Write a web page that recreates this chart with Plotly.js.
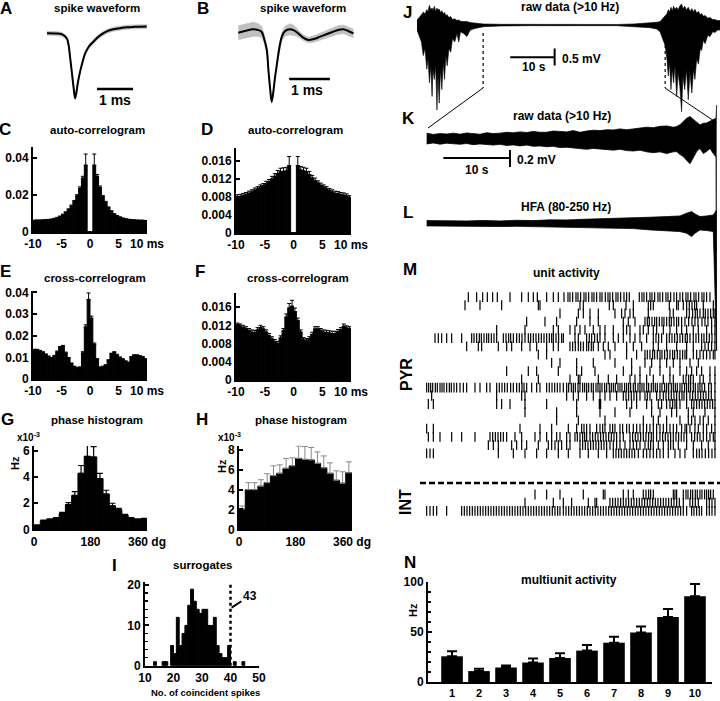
<!DOCTYPE html>
<html><head><meta charset="utf-8">
<script src="https://cdn.plot.ly/plotly-3.0.1.min.js"></script>
<style>html,body{margin:0;padding:0;background:#fff}#chart{width:720px;height:701px}</style>
</head><body><div id="chart"></div>
<script>
// ---------- DATA ----------
// A/B spike waveforms (time in ms, amplitude normalised to trough)
const wfATime = [0,0.23,0.42,0.55,0.6,0.64,0.69,0.74,0.78,0.82,0.86,0.92,0.99,1.06,1.17,1.29,1.42,1.57,1.69,1.84,2.03,2.21,2.44,2.77];
const wfAMean = [0,-0.003,-0.018,-0.077,-0.18,-0.36,-0.6,-0.84,-1.0,-0.9,-0.75,-0.59,-0.44,-0.31,-0.2,-0.13,-0.057,0,0.035,0.062,0.078,0.092,0.098,0.102];
const wfASd   = [0.03,0.03,0.03,0.03,0.025,0.02,0.02,0.02,0.02,0.02,0.02,0.02,0.02,0.025,0.03,0.03,0.03,0.03,0.03,0.03,0.03,0.03,0.03,0.03];
const wfBTime = [0,0.16,0.37,0.48,0.57,0.63,0.7,0.74,0.78,0.82,0.86,0.9,0.94,1.0,1.07,1.15,1.27,1.37,1.47,1.59,1.72,1.86,2.01,2.18,2.33,2.45,2.58,2.7,2.83];
const wfBMean = [-0.01,0.014,0.039,0.029,0.004,-0.086,-0.258,-0.545,-0.803,-1.0,-0.861,-0.66,-0.498,-0.258,-0.067,0.014,0.039,0.022,-0.019,-0.079,-0.115,-0.1,-0.067,-0.029,0.004,0.029,0.039,0.014,-0.019];
const wfBSd   = [0.1,0.1,0.1,0.09,0.08,0.06,0.04,0.03,0.03,0.03,0.03,0.03,0.04,0.05,0.06,0.07,0.08,0.07,0.05,0.04,0.04,0.045,0.05,0.055,0.06,0.06,0.06,0.06,0.06];

// C-F correlograms (lag bins, ms)
const lagBins = [-9.75,-9.25,-8.75,-8.25,-7.75,-7.25,-6.75,-6.25,-5.75,-5.25,-4.75,-4.25,-3.75,-3.25,-2.75,-2.25,-1.75,-1.25,-0.75,-0.25,0.25,0.75,1.25,1.75,2.25,2.75,3.25,3.75,4.25,4.75,5.25,5.75,6.25,6.75,7.25,7.75,8.25,8.75,9.25,9.75];
const acgPyr = [0.0060,0.0061,0.0061,0.0062,0.0063,0.0064,0.0066,0.0070,0.0075,0.0082,0.0092,0.0105,0.0120,0.0140,0.0165,0.0195,0.0235,0.0290,0.0360,0,0,0.0360,0.0300,0.0240,0.0190,0.0160,0.0130,0.0110,0.0095,0.0085,0.0078,0.0072,0.0068,0.0065,0.0063,0.0062,0.0061,0.0060,0.0060,0.0058];
const acgPyrErr = [0.0004,0.0004,0.0004,0.0004,0.0004,0.0004,0.0004,0.0004,0.0004,0.0004,0.0004,0.0004,0.0005,0.0005,0.0005,0.0006,0.0008,0.001,0.006,0,0,0.006,0.001,0.0008,0.0006,0.0005,0.0005,0.0005,0.0004,0.0004,0.0004,0.0004,0.0004,0.0004,0.0004,0.0004,0.0004,0.0004,0.0004,0.0004];
const acgInt = [0.0080,0.0081,0.0083,0.0085,0.0088,0.0091,0.0095,0.0098,0.0102,0.0105,0.0110,0.0114,0.0120,0.0126,0.0132,0.0136,0.0137,0.0138,0.0150,0,0,0.0150,0.0140,0.0138,0.0136,0.0130,0.0122,0.0116,0.0111,0.0106,0.0102,0.0098,0.0094,0.0091,0.0088,0.0087,0.0085,0.0084,0.0082,0.0078];
const acgIntErr = [0.0005,0.0005,0.0005,0.0005,0.0005,0.0005,0.0005,0.0005,0.0005,0.0005,0.0005,0.0005,0.0006,0.0006,0.0007,0.0008,0.0008,0.0008,0.002,0,0,0.002,0.0008,0.0008,0.0008,0.0007,0.0006,0.0006,0.0005,0.0005,0.0005,0.0005,0.0005,0.0005,0.0005,0.0005,0.0005,0.0005,0.0005,0.0005];
const ccgPyr = [0.0133,0.0133,0.0128,0.0122,0.0112,0.0102,0.0095,0.0105,0.0125,0.0145,0.0150,0.0120,0.0095,0.0070,0.0055,0.0050,0.0052,0.0120,0.0240,0.0367,0.0280,0.0160,0.0090,0.0052,0.0055,0.0062,0.0085,0.0115,0.0122,0.0110,0.0098,0.0090,0.0080,0.0074,0.0100,0.0108,0.0108,0.0104,0.0100,0.0090];
const ccgPyrErr = [0.0004,0.0004,0.0004,0.0004,0.0004,0.0004,0.0004,0.0004,0.0004,0.0005,0.0005,0.0004,0.0004,0.0004,0.0004,0.0004,0.0004,0.0006,0.001,0.003,0.001,0.0006,0.0004,0.0004,0.0004,0.0004,0.0004,0.0004,0.0004,0.0004,0.0004,0.0004,0.0004,0.0004,0.0004,0.0004,0.0004,0.0004,0.0004,0.0004];
const ccgInt = [0.0120,0.0118,0.0115,0.0112,0.0108,0.0105,0.0104,0.0110,0.0115,0.0112,0.0105,0.0097,0.0090,0.0084,0.0080,0.0092,0.0108,0.0138,0.0158,0.0162,0.0150,0.0130,0.0105,0.0088,0.0086,0.0090,0.0100,0.0112,0.0112,0.0108,0.0105,0.0104,0.0103,0.0102,0.0102,0.0106,0.0110,0.0118,0.0114,0.0112];
const ccgIntErr = [0.0005,0.0005,0.0005,0.0005,0.0005,0.0005,0.0005,0.0005,0.0005,0.0005,0.0005,0.0005,0.0005,0.0005,0.0005,0.0005,0.0005,0.0007,0.001,0.0013,0.0008,0.0006,0.0005,0.0005,0.0005,0.0005,0.0005,0.0005,0.0005,0.0005,0.0005,0.0005,0.0005,0.0005,0.0005,0.0005,0.0005,0.0005,0.0005,0.0005];

// G-H phase histograms (deg bins, rate x10^-3 Hz)
const phaseBins = [10,30,50,70,90,110,130,150,170,190,210,230,250,270,290,310,330,350];
const phasePyr = [0.3,0.65,0.75,0.85,1.2,1.9,2.6,4.3,5.6,5.55,3.9,2.7,1.8,1.5,1.1,0.85,0.75,0.8];
const phasePyrErr = [0.05,0.05,0.05,0.05,0.1,0.15,0.3,0.6,0.9,0.8,0.4,0.3,0.2,0.1,0.05,0.05,0.05,0.05];
const phaseInt = [2.05,4.0,4.0,4.35,4.7,5.4,5.65,6.15,6.4,7.15,7.05,7.0,6.65,6.2,5.65,4.95,4.65,5.7];
const phaseIntErr = [0.3,0.7,0.7,0.65,0.9,1.0,0.85,1.0,0.8,1.25,1.3,1.25,1.15,1.2,1.05,0.95,1.15,1.1];

// I surrogates histogram
const surrBins = [13.5,16.5,17.5,19.5,20.5,21.5,22.5,23.5,24.5,25.5,26.5,27.5,28.5,29.5,30.5,31.5,32.5,33.5,34.5,35.5,36.5,37.5,38.5,39.5,41.5,44.5];
const surrCounts = [1,1,1,5,3,12,5,8,10,15,19,16,14,13,14,14,10,10,12,5,3,2,2,5,1,1];
const surrThreshold = 40;
const observedCoinc = "43";

// J raw data envelope (s, mV)
const jTime = [0,0.5,1.0,1.4,1.8,2.2,2.5,2.8,3.1,3.4,3.6,3.9,4.2,4.5,4.7,5.0,5.3,5.6,5.9,6.2,6.5,6.8,7.2,7.6,8.0,8.5,9.0,9.4,9.8,10.5,11.25,12.0,13.1,15.0,18.75,25,35,45,48.75,52.5,54.0,54.75,55.3,55.9,56.3,56.6,56.9,57.2,57.5,57.8,58.1,58.5,58.8,59.2,59.6,59.9,60.3,60.7,61.1,61.5,61.9,62.3,62.6,63.0,63.4,63.8,64.1,64.5,64.9,65.5,66.0,66.6,67.1,67.7,68.25];
const jTop = [0.15,0.22,0.3,0.38,0.33,0.45,0.4,0.58,0.45,0.5,0.42,0.55,0.4,0.5,0.43,0.47,0.36,0.42,0.33,0.37,0.28,0.3,0.22,0.25,0.16,0.18,0.13,0.15,0.11,0.1,0.1,0.07,0.05,0.03,0.02,0.015,0.015,0.015,0.03,0.05,0.08,0.1,0.18,0.25,0.33,0.45,0.38,0.52,0.42,0.55,0.46,0.52,0.44,0.56,0.62,0.48,0.55,0.44,0.52,0.4,0.48,0.38,0.46,0.35,0.4,0.3,0.34,0.26,0.28,0.2,0.22,0.16,0.16,0.13,0.13];
const jBottom = [-0.15,-0.3,-0.5,-0.9,-0.7,-1.3,-1.0,-1.7,-1.2,-2.1,-1.3,-1.6,-1.2,-2.5,-1.4,-2.3,-1.3,-1.9,-1.1,-1.6,-0.9,-1.2,-0.7,-0.8,-0.4,-0.5,-0.25,-0.5,-0.2,-0.25,-0.34,-0.15,-0.1,-0.05,-0.03,-0.02,-0.02,-0.02,-0.05,-0.08,-0.12,-0.2,-0.4,-0.6,-1.0,-1.5,-1.1,-1.9,-1.3,-1.7,-1.2,-2.1,-1.4,-1.8,-2.55,-1.5,-1.9,-1.3,-2.2,-1.4,-2.0,-1.3,-1.6,-1.0,-1.15,-0.7,-0.75,-0.45,-0.55,-0.3,-0.34,-0.2,-0.22,-0.15,-0.15];
// K raw data envelope (s, mV)
const kTime = [0,1,2,3,4,5,6,7,8,9,10,11,12,13,14,15,16,17,18,19,20,21,22,23,24,25,26,27,28,29,30,31,32,33,34,35,36,37,37.5,38,38.5,39,39.5,40,40.5,41,41.5,42,42.5,43,43.4,43.5];
const kTop = [0.06,0.045,0.055,0.05,0.06,0.048,0.062,0.05,0.047,0.065,0.055,0.06,0.07,0.065,0.075,0.068,0.08,0.07,0.071,0.085,0.078,0.075,0.09,0.07,0.085,0.095,0.09,0.1,0.098,0.11,0.1,0.106,0.12,0.13,0.125,0.14,0.145,0.13,0.137,0.16,0.196,0.235,0.255,0.224,0.196,0.157,0.176,0.18,0.2,0.216,0.235,0.39];
const kBottom = [-0.067,-0.055,-0.07,-0.058,-0.065,-0.07,-0.062,-0.075,-0.067,-0.07,-0.08,-0.072,-0.085,-0.078,-0.09,-0.08,-0.095,-0.09,-0.1,-0.095,-0.11,-0.106,-0.115,-0.12,-0.13,-0.12,-0.129,-0.135,-0.14,-0.13,-0.145,-0.15,-0.14,-0.16,-0.17,-0.16,-0.18,-0.16,-0.157,-0.19,-0.216,-0.26,-0.3,-0.23,-0.157,-0.12,-0.18,-0.155,-0.12,-0.18,-0.22,-2.5];
// L HFA envelope (s, mV)
const lTime = [0,3,6,8.5,11,13.5,16,18.5,21,23.5,26,28.5,31,33.5,36,38,39,39.75,40.25,41,42,43,43.5];
const lTop = [0.031,0.025,0.027,0.033,0.027,0.035,0.031,0.04,0.039,0.047,0.051,0.055,0.063,0.071,0.078,0.086,0.118,0.137,0.11,0.078,0.086,0.098,0.157];
const lBottom = [-0.031,-0.035,-0.031,-0.038,-0.039,-0.036,-0.039,-0.045,-0.047,-0.051,-0.059,-0.059,-0.063,-0.078,-0.086,-0.098,-0.118,-0.157,-0.118,-0.078,-0.086,-0.098,-1.5];

// M unit activity rasters (spike times, s)
const pyrSpikes = [
[6.25,7.5,8.4,9.1,9.9,10.6,12.5,14.25,15.25,16,16.6,18,19,19.75,20.6,21.2,21.5,21.9,22.4,22.7,23.1,23.6,23.9,24.3,24.8,25.1,25.5,26.0,26.3,26.8,27.2,27.5,27.9,28.4,28.7,29.1,29.6,30.0,30.4,31.9,32.3,32.6,33.0,33.5,33.8,34.2,34.7,35.0,35.4,35.9,36.2,36.6,37.1,37.5,38.0,38.4,38.9,39.2,39.6,40.1,40.4,40.8,41.3,41.6,42.0,42.5],
[5.75,8.0,11.25,16.75,17.0,23.0,23.5,27.4,28.0,29.9,31.0,33.25,33.6,34.0,36.4,37.5,37.75,38.5,39.0,39.4,39.8,40.2,40.5,41.5,43.0],
[20.0,22.75,23.5,24.5,25.75,28.25,29.25,29.75,30.5,31.0,33.25,36.5,37.0,39.0,39.4,39.9,40.3,40.6,41.0,41.5,41.8,42.2,42.6,43.0,43.25],
[15.0,17.75,19.5,22.5,24.5,25.75,29.5,30.25,31.25,32.75,33.1,33.4,33.8,34.2,34.5,34.9,35.3,35.6,36.0,36.4,36.7,37.1,37.5,37.8,38.25,38.75,39.3,39.8,40.25,40.7,41.3,41.75,42.2,42.75,43.25],
[10.5,14.75,19.0,19.75,21.5,22.25,23.0,23.75,25.0,26.0,26.75,28.0,29.5,30.0,30.5,32.0,32.5,33.25,34.0,34.5,35.5,36.5,37.5,38.25,39.0,40.0,40.75,42.0,42.75,43.25],
[1.25,1.75,2.25,3.0,3.75,5.25,6.75,7.1,7.5,7.9,8.2,8.6,9.0,9.3,9.7,10.1,10.5,11.5,11.9,12.3,12.6,13.0,13.5,13.9,14.3,14.75,15.25,15.6,16.0,16.4,16.8,17.2,17.6,18.0,18.4,18.75,19.0,19.4,19.8,20.25,20.5,22.25,22.75,24.0,24.4,24.75,25.2,25.6,26.0,26.75,28.0,28.75,29.5,30.5,31.25,32.0,33.0,34.0,34.4,34.8,35.25,36.0,36.4,36.8,37.2,37.6,38.0,38.4,38.8,39.1,39.5,40.0,40.4,40.8,41.25,41.6,42.0,42.4,42.8,43.25],
[6.0,7.75,8.25,10.75,12.0,12.75,14.25,15.5,16.5,18.0,19.0,19.75,21.5,21.9,22.3,22.75,23.1,23.5,24.0,24.3,24.7,25.0,25.75,26.5,27.25,28.25,30.0,31.0,32.25,34.0,34.75,36.0,37.5,39.0,40.0,41.25,41.75,42.25,42.75,43.25],
[16.75,18.0,26.75,27.5,30.0,31.5,32.75,33.1,33.5,33.9,34.2,34.6,35.0,35.3,35.7,36.1,36.5,36.9,37.2,37.6,38.0,38.4,38.75,39.0,40.0,40.5,41.0,41.5,42.0,42.5,43.0,43.25],
[18.75,20.0,22.5,25.0,28.25,30.75,32.75,33.75,35.0,36.0,37.0,38.0,39.5,40.75],
[12.0,15.25,16.5,19.75,22.5,23.25,25.25,29.5,30.75,32.0,33.5,35.0,36.5,38.0,39.0,39.75,40.5,41.25,42.5,43.25],
[14.25,16.75,21.5,22.75,23.0,25.75,27.25,28.5,30.5,31.25,32.0,33.0,34.0,35.5,36.5,37.0,38.5,38.9,39.3,39.6,40.0,41.0,41.5,42.5,43.25],
[0.0,0.3,0.6,0.9,1.3,1.6,2.0,2.3,2.6,3.0,3.4,3.7,4.1,4.5,5.0,5.5,6.0,7.25,8.0,9.0,9.5,10.5,10.9,11.3,11.7,12.1,12.6,13.0,13.5,13.9,14.3,14.6,15.0,15.75,16.5,17.0,18.0,18.4,18.8,19.2,19.6,20.0,20.5,21.0,21.3,21.7,22.0,22.3,22.7,23.0,23.4,23.7,24.0,24.3,24.7,25.0,25.4,25.7,26.0,26.3,26.7,27.0,27.4,27.7,28.0,28.3,28.7,29.0,29.3,29.7,30.0,30.3,30.6,31.0,31.3,31.7,32.0,32.3,32.6,33.0,33.3,33.7,34.0,34.3,34.6,35.0,35.3,35.7,36.0,36.3,36.7,37.0,37.3,37.6,38.0,38.3,38.7,39.0,39.3,39.6,40.0,40.3,40.7,41.0,41.3,41.7,42.3,42.7,43.25],
[0.75,10.5,14.25,14.75,21.0,22.0,22.75,24.0,25.0,26.0,26.75,27.5,28.5,29.5,29.9,30.3,30.7,31.1,31.5,32.0,32.75,33.1,33.5,34.5,35.0,35.5,35.9,36.3,36.7,37.1,37.5,37.9,38.3,38.6,39.0,39.5,39.9,40.3,40.7,41.1,41.5,41.9,42.3,42.7,43.25],
[0.25,1.0,10.5,11.25,12.5,14.75,18.0,22.5,25.9,26.0,26.1,30.0,30.75,31.5,33.0,33.75,34.75,35.25,36.0,36.5,36.9,37.25,37.5,38.0,39.0,39.75,40.1,40.5,40.9,41.3,41.7,42.1,42.5,42.9,43.25],
[14.75,19.5,22.5,26.0,28.25,30.5,33.75,35.0,36.75,37.5,39.25,40.0,41.75,43.25],
[19.5,22.75,26.75,32.5,34.0,34.75,36.0,38.0,39.25,39.75,40.25,41.0,41.5,42.25,43.25],
[0,1.0,14.0,17.0,18.75,21.25,22.5,23.25,23.6,24.0,24.5,25.5,26.0,26.4,26.75,27.5,27.9,28.25,29.0,29.4,30.0,30.4,31.0,31.5,32.0,32.5,33.0,33.5,34.0,34.5,35.0,35.5,36.0,36.5,37.0,37.5,38.25,38.75,39.0,39.5,40.25,40.75,41.5,42.0,42.75,43.25],
[0.25,1.0,2.0,3.75,5.25,7.25,9.5,9.9,10.3,10.7,11.1,11.5,12.0,13.25,14.25,16.25,17.0,18.0,18.75,19.5,20.0,21.0,21.5,22.25,22.6,23.0,23.4,23.7,24.0,24.5,24.9,25.3,25.7,26.1,26.5,26.9,27.3,27.7,28.1,28.5,29.0,29.5,30.5,30.9,31.3,31.7,32.1,32.5,32.9,33.3,33.7,34.0,34.5,35.0,35.4,35.8,36.2,36.6,37.0,37.4,37.8,38.2,38.6,39.0,39.75,40.2,40.6,41.0,41.5,42.0,42.5,43.0,43.25],
[9.25,10.0,10.75,12.75,13.5,14.25,15.0,16.75,18.25,18.75,19.25,19.75,20.25,21.0,21.5,23.0,23.4,23.8,24.2,24.6,25.0,25.4,25.8,26.2,26.6,27.0,27.5,28.0,28.5,29.0,29.75,30.5,31.0,31.5,32.0,32.75,33.25,33.6,34.0,34.75,35.5,36.25,36.6,37.0,37.75,39.0,40.0,41.25,42.25,43.25],
[0,0.5,1.0,10.75,13.0,14.75,16.5,18.0,19.75,21.25,23.0,24.25,25.75,27.0,28.0,28.4,28.8,29.2,29.6,30.0,30.4,30.8,31.2,31.75,32.5,33.0,33.5,34.0,34.5,35.0,35.5,36.25,37.25,38.0,38.75,40.0,40.5,40.9,41.3,41.8,42.3,42.8,43.25]
];
const intSpikes = [
[16.25,18.0,20.0,23.5,26.5,26.75,29.5,30.25,31.0,32.5,32.9,33.3,33.6,34.0,37.0,37.25,37.5,38.5,38.9,39.2,39.6,39.9,40.3,40.6,41.0,41.3,41.7,42.0,42.3,42.6,43.0],
[14.75,19.0,20.5,21.75,24.25,25.25,25.5,27.5,27.9,28.3,28.7,29.1,29.5,29.9,30.3,30.7,31.1,31.5,31.9,32.3,32.7,33.1,33.5,33.9,34.3,34.7,35.1,35.5,35.9,36.3,36.7,37.1,37.5,37.9,38.5,39.5,39.9,40.3,40.75,42.0,42.4,42.8,43.25],
[0,0.5,1.0,1.5,3.0,5.25,5.65,6.05,6.45,6.85,7.25,7.65,8.05,8.45,8.85,9.25,9.65,10.05,10.45,10.85,11.25,11.65,12.05,12.45,12.85,13.25,13.65,14.05,14.45,14.85,15.25,15.65,16.05,16.45,16.85,17.25,17.65,18.05,18.45,18.85,19.25,19.65,20.0,20.5,20.9,21.3,21.7,22.1,22.5,22.9,23.3,23.7,24.1,24.5,24.9,25.3,25.7,26.1,26.5,26.9,27.3,27.7,28.1,28.5,28.9,29.3,29.7,30.1,30.5,30.9,31.3,31.7,32.1,32.5,32.9,33.3,33.7,34.1,34.5,34.9,35.3,35.7,36.1,36.5,36.9,37.3,37.7,38.1,38.5,39.0,39.75,40.1,40.5,40.9,41.25,42.0,42.4,42.8,43.25]
];
const pyrRows = [1,2,3,4,5,6,7,8,9,10,11,12,13,14,15,16,17,18,19,20];
const intRows = [25,26,27];
const pyrIntBoundary = 23.6;

// N multiunit activity
const muaCats = [1,2,3,4,5,6,7,8,9,10];
const muaRate = [25.7,10.9,14.5,19.5,24,31.4,39.3,49.5,65,85.8];
const muaErr = [5,2.3,2,3.9,4.7,5.6,5.9,5.9,8,12.2];

// ---------- LAYOUT HELPERS ----------
const W = 720, H = 701;
const FAM = 'Liberation Sans, Arial, sans-serif';
const dx = (a,b) => [a/W, b/W];
const dy = (t,b) => [1-b/H, 1-t/H];
const TF = {family:FAM, size:12, color:'#000', weight:'bold'};

function hid(dom, range, anchor){ return {domain:dom, range:range, visible:false, fixedrange:true, anchor:anchor, showgrid:false, zeroline:false}; }
function xax(dom, range, tv, tt, anchor, tf){ return {domain:dom, range:range, anchor:anchor, showline:true, linewidth:2, linecolor:'#000', ticks:'', tickvals:tv, ticktext:tt, tickfont:tf||TF, showgrid:false, zeroline:false, fixedrange:true}; }
function yax(dom, range, tv, tt, anchor, minorVals){
  const o = {domain:dom, range:range, anchor:anchor, showline:true, linewidth:2, linecolor:'#000', ticks:'inside', ticklen:4, tickwidth:2, tickcolor:'#000', tickvals:tv, ticktext:tt, tickfont:TF, showgrid:false, zeroline:false, fixedrange:true};
  if (minorVals) o.minor = {tickmode:'array', tickvals:minorVals, ticks:'inside', ticklen:3, tickwidth:1.5, tickcolor:'#000', showgrid:false};
  return o;
}
const zeros = a => a.map(() => 0);
function bars(x, y, err, xa, ya, w, ecol, eth, ew, lw){
  const t = {type:'bar', x:x, y:y, width:w, xaxis:xa, yaxis:ya, marker:{color:'#000', line:{width:(lw===undefined?1:lw), color:'#000'}}, hoverinfo:'skip'};
  if (err) t.error_y = {type:'data', symmetric:false, array:err, arrayminus:zeros(err), color:ecol, thickness:eth, width:ew};
  return t;
}
function envelope(x, lo, hi, xa, ya, col, lw){
  return [
    {type:'scatter', mode:'lines', x:x, y:lo, xaxis:xa, yaxis:ya, line:{color:col, width:lw||0.8}, hoverinfo:'skip'},
    {type:'scatter', mode:'lines', x:x, y:hi, xaxis:xa, yaxis:ya, line:{color:col, width:lw||0.8}, fill:'tonexty', fillcolor:col, hoverinfo:'skip'}
  ];
}

// ---------- TRACES ----------
const data = [];
data.push(...envelope(wfATime, wfAMean.map((m,i)=>m-wfASd[i]), wfAMean.map((m,i)=>m+wfASd[i]), 'x', 'y', '#c0c0c0'));
data.push({type:'scatter', mode:'lines', x:wfATime, y:wfAMean, xaxis:'x', yaxis:'y', line:{color:'#000', width:2, shape:'spline'}, hoverinfo:'skip'});
data.push(...envelope(wfBTime, wfBMean.map((m,i)=>m-wfBSd[i]), wfBMean.map((m,i)=>m+wfBSd[i]), 'x2', 'y2', '#c0c0c0'));
data.push({type:'scatter', mode:'lines', x:wfBTime, y:wfBMean, xaxis:'x2', yaxis:'y2', line:{color:'#000', width:2, shape:'spline'}, hoverinfo:'skip'});
data.push(bars(lagBins, acgPyr, acgPyrErr, 'x3', 'y3', 0.5, '#000', 1, 2));
data.push(bars(lagBins, acgInt, acgIntErr, 'x4', 'y4', 0.5, '#000', 1, 2));
data.push(bars(lagBins, ccgPyr, ccgPyrErr, 'x5', 'y5', 0.5, '#000', 1, 2));
data.push(bars(lagBins, ccgInt, ccgIntErr, 'x6', 'y6', 0.5, '#000', 1, 2));
data.push(bars(phaseBins, phasePyr, phasePyrErr, 'x7', 'y7', 20, '#000', 1.2, 3));
data.push(bars(phaseBins, phaseInt, phaseIntErr, 'x8', 'y8', 20, '#888', 1, 3));
data.push(bars(surrBins, surrCounts, null, 'x9', 'y9', 1));
data.push(...envelope(jTime, jBottom, jTop, 'x10', 'y10', '#000', 0.6));
data.push(...envelope(kTime, kBottom, kTop, 'x11', 'y11', '#000', 0.8));
data.push(...envelope(lTime, lBottom, lTop, 'x12', 'y12', '#000', 0.8));
function raster(rows, ys){
  const xs = [], yv = [];
  rows.forEach((r,i) => r.forEach(t => { xs.push(t); yv.push(ys[i]); }));
  return {type:'scatter', mode:'markers', x:xs, y:yv, xaxis:'x13', yaxis:'y13', marker:{symbol:'line-ns', size:7, line:{width:1.2, color:'#000'}, color:'#000'}, hoverinfo:'skip'};
}
data.push(raster(pyrSpikes, pyrRows));
data.push(raster(intSpikes, intRows));
data.push(bars(muaCats, muaRate, muaErr, 'x14', 'y14', 0.8, '#000', 2, 5, 0));

// ---------- LAYOUT ----------
const layout = {
  width:W, height:H, margin:{l:0,r:0,t:0,b:0,pad:0},
  paper_bgcolor:'#fff', plot_bgcolor:'rgba(0,0,0,0)', showlegend:false,
  font:{family:FAM, color:'#000'},
  xaxis: hid(dx(40,150), [-0.194,2.861], 'y'),
  yaxis: hid(dy(15,110), [-1.18,0.28], 'x'),
  xaxis2: hid(dx(230,358), [-0.204,2.941], 'y2'),
  yaxis2: hid(dy(15,110), [-1.119,0.244], 'x2'),
  xaxis3: xax(dx(33,147), [-10,10], [-10,-5,0,5,10], ['-10','-5','0','5','10 ms'], 'y3'),
  yaxis3: yax(dy(147,232), [0,0.0458], [0,0.02,0.04], ['0','0.02','0.04'], 'x3'),
  xaxis4: xax(dx(236,351), [-10,10], [-10,-5,0,5,10], ['-10','-5','0','5','10 ms'], 'y4'),
  yaxis4: yax(dy(148,233), [0,0.0189], [0,0.004,0.008,0.012,0.016], ['0','0.004','0.008','0.012','0.016'], 'x4'),
  xaxis5: xax(dx(33,147), [-10,10], [-10,-5,0,5,10], ['-10','-5','0','5','10 ms'], 'y5'),
  yaxis5: yax(dy(291,379), [0,0.0406], [0,0.01,0.02,0.03,0.04], ['0','0.01','0.02','0.03','0.04'], 'x5'),
  xaxis6: xax(dx(236,351), [-10,10], [-10,-5,0,5,10], ['-10','-5','0','5','10 ms'], 'y6'),
  yaxis6: yax(dy(293,380), [0,0.0191], [0,0.004,0.008,0.012,0.016], ['0','0.004','0.008','0.012','0.016'], 'x6'),
  xaxis7: xax(dx(34,147), [0,360], [0,180,360], ['0','180','360 dg'], 'y7'),
  yaxis7: yax(dy(446,529.3), [0,6.4], [0,2,4,6], ['0','2','4','6'], 'x7'),
  xaxis8: xax(dx(239,352), [0,360], [0,180,360], ['0','180','360 dg'], 'y8'),
  yaxis8: yax(dy(445.5,529.3), [0,8.45], [0,2,4,6,8], ['0','2','4','6','8'], 'x8'),
  xaxis9: xax(dx(145,259), [10,50], [10,20,30,40,50], ['10','20','30','40','50'], 'y9'),
  yaxis9: yax(dy(581.7,665.7), [0,20.85], [0,10,20], ['0','10','20'], 'x9', [2,4,6,8,12,14,16,18]),
  xaxis10: hid(dx(417,720), [0,68.25], 'y10'),
  yaxis10: hid(dy(0,115), [-2.647,0.735], 'x10'),
  xaxis11: hid(dx(425,718.3), [-0.25,43.75], 'y11'),
  yaxis11: hid(dy(100,355), [-2.55,0.45], 'x11'),
  xaxis12: hid(dx(425,718.3), [-0.25,43.75], 'y12'),
  yaxis12: hid(dy(185,355), [-1.55,0.45], 'x12'),
  xaxis13: hid(dx(425,718.3), [-0.25,43.75], 'y13'),
  yaxis13: hid(dy(288.8,519.2), [28,0], 'x13'),
  xaxis14: xax(dx(428,712), [0.11,10.63], muaCats, muaCats.map(String), 'y14', {family:FAM, size:11, color:'#000', weight:'bold'}),
  yaxis14: yax(dy(582,682), [0,100], [0,50,100], ['0','50','100'], 'x14', [10,20,30,40,60,70,80,90]),
  shapes: [],
  annotations: []
};

function pa(text, px, py, size, extra){
  return Object.assign({text:text, x:px/W, y:1-py/H, xref:'paper', yref:'paper', showarrow:false, xanchor:'center', yanchor:'middle', font:{family:FAM, size:size, color:'#000', weight:'bold'}}, extra||{});
}
function da(text, x, y, xr, yr, size, extra){
  return Object.assign({text:text, x:x, y:y, xref:xr, yref:yr, showarrow:false, xanchor:'center', yanchor:'middle', font:{family:FAM, size:size, color:'#000', weight:'bold'}}, extra||{});
}
function seg(x0,y0,x1,y1,xr,yr,w,dash){
  return {type:'line', x0:x0, y0:y0, x1:x1, y1:y1, xref:xr, yref:yr, line:{color:'#000', width:w, dash:dash||'solid'}};
}

[['A',6,8],['B',203,8],['C',5,129],['D',207,130],['E',5,271],['F',200,271],['G',7,419],['H',202,419],['I',115,565],['J',407,12],['K',408,119],['L',408,212],['M',410,269],['N',410,562]]
  .forEach(p => layout.annotations.push(pa(p[0], p[1], p[2], 17)));
[['spike waveform',97,8],['spike waveform',303,8],['auto-correlogram',97,130],['auto-correlogram',295,130],
 ['cross-correlogram',95,278],['cross-correlogram',298,278],['phase histogram',97,420],['phase histogram',301,420],
 ['surrogates',202,565]].forEach(t => layout.annotations.push(pa(t[0], t[1], t[2], 11.5)));
[['raw data (&gt;10 Hz)',570,7],['raw data (&gt;10 Hz)',562,116],['HFA (80-250 Hz)',566,207],['unit activity',566,273],['multiunit activity',569,580]]
  .forEach(t => layout.annotations.push(pa(t[0], t[1], t[2], 12)));
layout.annotations.push(pa('x10<sup>-3</sup>', 28, 437, 10));
layout.annotations.push(pa('x10<sup>-3</sup>', 229, 437, 10));
layout.annotations.push(pa('Hz', 15, 463, 11, {textangle:-90}));
layout.annotations.push(pa('Hz', 222, 466, 11, {textangle:-90}));
layout.annotations.push(pa('Hz', 413, 610, 11, {textangle:-90}));
layout.annotations.push(pa('PYR', 406, 375, 16, {textangle:-90}));
layout.annotations.push(pa('INT', 406, 502, 16, {textangle:-90}));
layout.annotations.push(pa('No. of coincident spikes', 205, 692, 9.5));
layout.annotations.push({text:observedCoinc, x:40.4, y:14.4, xref:'x9', yref:'y9', ax:46.8, ay:17.4, axref:'x9', ayref:'y9', showarrow:true, arrowhead:0, arrowwidth:2, arrowcolor:'#000', font:{family:FAM, size:12, color:'#000', weight:'bold'}});

layout.shapes.push(seg(1.39,-0.857,2.39,-0.857,'x','y',2.5));
layout.annotations.push(da('1 ms', 1.89, -1.03, 'x', 'y', 14));
layout.shapes.push(seg(1.25,-0.674,2.25,-0.674,'x2','y2',2.5));
layout.annotations.push(da('1 ms', 1.68, -0.832, 'x2', 'y2', 14));
layout.shapes.push(seg(21,-0.951,31,-0.951,'x10','y10',2));
layout.shapes.push(seg(31,-0.69,31,-1.19,'x10','y10',2));
layout.annotations.push(da('10 s', 26.25, -1.24, 'x10', 'y10', 12));
layout.annotations.push(da('0.5 mV', 32.3, -1.0, 'x10', 'y10', 12, {xanchor:'left'}));
layout.shapes.push(seg(2.5,-0.232,12.5,-0.232,'x11','y11',2));
layout.shapes.push(seg(12.5,-0.138,12.5,-0.338,'x11','y11',2));
layout.annotations.push(da('10 s', 7.5, -0.37, 'x11', 'y11', 12));
layout.annotations.push(da('0.2 mV', 13.2, -0.255, 'x11', 'y11', 12, {xanchor:'left'}));
layout.shapes.push(seg(14.9,-0.235,14.9,-1.85,'x10','y10',1.2,'dot'));
layout.shapes.push(seg(55.9,-0.235,55.9,-1.85,'x10','y10',1.2,'dot'));
layout.shapes.push(seg(483/W,1-88/H,428/W,1-128/H,'paper','paper',1));
layout.shapes.push(seg(665/W,1-88/H,717/W,1-123/H,'paper','paper',1));
layout.shapes.push({type:'line', x0:420/W, x1:1, y0:pyrIntBoundary, y1:pyrIntBoundary, xref:'paper', yref:'y13', line:{color:'#000', width:2.5, dash:'6px,3px'}});
layout.shapes.push({type:'line', x0:surrThreshold, x1:surrThreshold, y0:0, y1:20.6, xref:'x9', yref:'y9', line:{color:'#000', width:2.5, dash:'dot'}});

Plotly.newPlot('chart', data, layout, {staticPlot:true, displayModeBar:false});
</script></body></html>
